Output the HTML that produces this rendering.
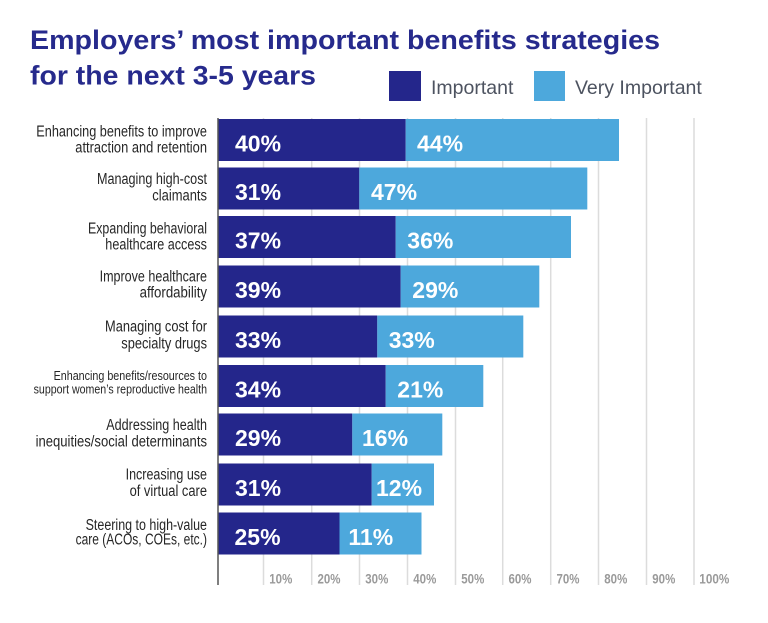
<!DOCTYPE html>
<html>
<head>
<meta charset="utf-8">
<style>
  html, body { margin: 0; padding: 0; background: #ffffff; }
  svg { display: block; }
  .cat { font-family: "Liberation Sans", sans-serif; font-size: 15.5px; fill: #262626; }
  .cats { font-family: "Liberation Sans", sans-serif; font-size: 12.5px; fill: #262626; }
  .val { font-family: "Liberation Sans", sans-serif; font-size: 23px; font-weight: bold; fill: #ffffff; }
  .tick { font-family: "Liberation Sans", sans-serif; font-size: 14px; font-weight: bold; fill: #9a9a9a; }
  .title { font-family: "Liberation Sans", sans-serif; font-size: 27px; font-weight: bold; fill: #262a8c; }
  .leg { font-family: "Liberation Sans", sans-serif; font-size: 19.5px; fill: #4d5360; }
</style>
</head>
<body>
<svg width="768" height="623" viewBox="0 0 768 623" xmlns="http://www.w3.org/2000/svg">
  <rect width="768" height="623" fill="#ffffff"/>

  <!-- Title -->
  <text class="title" x="30" y="49" textLength="630" lengthAdjust="spacingAndGlyphs">Employers’ most important benefits strategies</text>
  <text class="title" x="30" y="84.5" textLength="286" lengthAdjust="spacingAndGlyphs">for the next 3-5 years</text>

  <!-- Legend -->
  <rect x="389" y="71" width="32" height="30" fill="#24268b"/>
  <text class="leg" x="431" y="94">Important</text>
  <rect x="534" y="71" width="31" height="30" fill="#4da8dc"/>
  <text class="leg" x="575" y="94">Very Important</text>

  <!-- Gridlines -->
  <g stroke="#dcdcdc" stroke-width="1.5">
    <line x1="263.5" y1="118" x2="263.5" y2="585"/>
    <line x1="311.7" y1="118" x2="311.7" y2="585"/>
    <line x1="359.5" y1="118" x2="359.5" y2="585"/>
    <line x1="407.5" y1="118" x2="407.5" y2="585"/>
    <line x1="455.5" y1="118" x2="455.5" y2="585"/>
    <line x1="502.7" y1="118" x2="502.7" y2="585"/>
    <line x1="550.7" y1="118" x2="550.7" y2="585"/>
    <line x1="598.5" y1="118" x2="598.5" y2="585"/>
    <line x1="646.5" y1="118" x2="646.5" y2="585"/>
    <line x1="694" y1="118" x2="694" y2="585"/>
  </g>

  <!-- Tick labels -->
  <text class="tick" x="269.3" y="583.5" textLength="23" lengthAdjust="spacingAndGlyphs">10%</text>
  <text class="tick" x="317.5" y="583.5" textLength="23" lengthAdjust="spacingAndGlyphs">20%</text>
  <text class="tick" x="365.3" y="583.5" textLength="23" lengthAdjust="spacingAndGlyphs">30%</text>
  <text class="tick" x="413.3" y="583.5" textLength="23" lengthAdjust="spacingAndGlyphs">40%</text>
  <text class="tick" x="461.3" y="583.5" textLength="23" lengthAdjust="spacingAndGlyphs">50%</text>
  <text class="tick" x="508.5" y="583.5" textLength="23" lengthAdjust="spacingAndGlyphs">60%</text>
  <text class="tick" x="556.5" y="583.5" textLength="23" lengthAdjust="spacingAndGlyphs">70%</text>
  <text class="tick" x="604.3" y="583.5" textLength="23" lengthAdjust="spacingAndGlyphs">80%</text>
  <text class="tick" x="652.3" y="583.5" textLength="23" lengthAdjust="spacingAndGlyphs">90%</text>
  <text class="tick" x="699.3" y="583.5" textLength="30" lengthAdjust="spacingAndGlyphs">100%</text>

  <!-- Bars -->
  <g>
    <rect x="218" y="119" width="187.7" height="42" fill="#24268b"/>
    <rect x="405.7" y="119" width="213.3" height="42" fill="#4da8dc"/>
    <text class="val" x="235" y="151.5">40%</text>
    <text class="val" x="417" y="151.5">44%</text>

    <rect x="218" y="167.5" width="141.3" height="42" fill="#24268b"/>
    <rect x="359.3" y="167.5" width="228" height="42" fill="#4da8dc"/>
    <text class="val" x="235" y="200">31%</text>
    <text class="val" x="371" y="200">47%</text>

    <rect x="218" y="216" width="177.7" height="42" fill="#24268b"/>
    <rect x="395.7" y="216" width="175.3" height="42" fill="#4da8dc"/>
    <text class="val" x="235" y="248.5">37%</text>
    <text class="val" x="407.3" y="248.5">36%</text>

    <rect x="218" y="265.5" width="182.7" height="42" fill="#24268b"/>
    <rect x="400.7" y="265.5" width="138.6" height="42" fill="#4da8dc"/>
    <text class="val" x="235" y="298">39%</text>
    <text class="val" x="412.3" y="298">29%</text>

    <rect x="218" y="315.5" width="159.3" height="42" fill="#24268b"/>
    <rect x="377.3" y="315.5" width="146" height="42" fill="#4da8dc"/>
    <text class="val" x="235" y="348">33%</text>
    <text class="val" x="388.7" y="348">33%</text>

    <rect x="218" y="365" width="167.7" height="42" fill="#24268b"/>
    <rect x="385.7" y="365" width="97.6" height="42" fill="#4da8dc"/>
    <text class="val" x="235" y="397.5">34%</text>
    <text class="val" x="397.3" y="397.5">21%</text>

    <rect x="218" y="413.5" width="134.3" height="42" fill="#24268b"/>
    <rect x="352.3" y="413.5" width="90" height="42" fill="#4da8dc"/>
    <text class="val" x="235" y="446">29%</text>
    <text class="val" x="362" y="446">16%</text>

    <rect x="218" y="463.5" width="153.7" height="42" fill="#24268b"/>
    <rect x="371.7" y="463.5" width="62.3" height="42" fill="#4da8dc"/>
    <text class="val" x="235" y="496">31%</text>
    <text class="val" x="376" y="496">12%</text>

    <rect x="218" y="512.5" width="121.5" height="42" fill="#24268b"/>
    <rect x="339.5" y="512.5" width="82" height="42" fill="#4da8dc"/>
    <text class="val" x="234.5" y="545">25%</text>
    <text class="val" x="348.4" y="545">11%</text>
  </g>

  <!-- Axis -->
  <line x1="218" y1="118" x2="218" y2="585" stroke="#555555" stroke-width="1.5"/>

  <!-- Category labels -->
  <g text-anchor="end">
    <text class="cat" x="207" y="136.7" textLength="170.7" lengthAdjust="spacingAndGlyphs">Enhancing benefits to improve</text>
    <text class="cat" x="207" y="152.7" textLength="131.7" lengthAdjust="spacingAndGlyphs">attraction and retention</text>

    <text class="cat" x="207" y="184" textLength="110" lengthAdjust="spacingAndGlyphs">Managing high-cost</text>
    <text class="cat" x="207" y="200.7" textLength="54.7" lengthAdjust="spacingAndGlyphs">claimants</text>

    <text class="cat" x="207" y="233.3" textLength="119" lengthAdjust="spacingAndGlyphs">Expanding behavioral</text>
    <text class="cat" x="207" y="249.3" textLength="101.7" lengthAdjust="spacingAndGlyphs">healthcare access</text>

    <text class="cat" x="207" y="281.7" textLength="107.4" lengthAdjust="spacingAndGlyphs">Improve healthcare</text>
    <text class="cat" x="207" y="297.3" textLength="67.4" lengthAdjust="spacingAndGlyphs">affordability</text>

    <text class="cat" x="207" y="331.7" textLength="102" lengthAdjust="spacingAndGlyphs">Managing cost for</text>
    <text class="cat" x="207" y="348.3" textLength="85.7" lengthAdjust="spacingAndGlyphs">specialty drugs</text>

    <text class="cats" x="207" y="380" textLength="153.4" lengthAdjust="spacingAndGlyphs">Enhancing benefits/resources to</text>
    <text class="cats" x="207" y="393.3" textLength="173.4" lengthAdjust="spacingAndGlyphs">support women’s reproductive health</text>

    <text class="cat" x="207" y="430" textLength="100.7" lengthAdjust="spacingAndGlyphs">Addressing health</text>
    <text class="cat" x="207" y="446.7" textLength="171.4" lengthAdjust="spacingAndGlyphs">inequities/social determinants</text>

    <text class="cat" x="207" y="479.3" textLength="81.4" lengthAdjust="spacingAndGlyphs">Increasing use</text>
    <text class="cat" x="207" y="496" textLength="77.4" lengthAdjust="spacingAndGlyphs">of virtual care</text>

    <text class="cat" x="207" y="530" textLength="121.4" lengthAdjust="spacingAndGlyphs">Steering to high-value</text>
    <text class="cat" x="207" y="544.5" textLength="131.4" lengthAdjust="spacingAndGlyphs">care (ACOs, COEs, etc.)</text>
  </g>
</svg>
</body>
</html>
